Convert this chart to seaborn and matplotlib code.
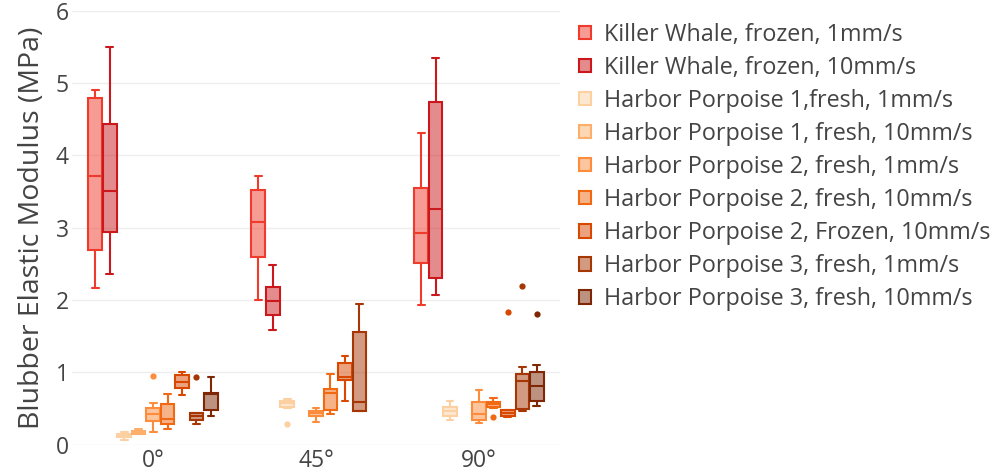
import numpy as np
import pandas as pd
import matplotlib.pyplot as plt
import seaborn as sns
from matplotlib.colors import to_rgba
from matplotlib.patches import Patch

# ---- data: [whisker low, q1, median, q3, whisker high] ----
angles = ['0°', '45°', '90°']

series = [
    'Killer Whale, frozen, 1mm/s',
    'Killer Whale, frozen, 10mm/s',
    'Harbor Porpoise 1,fresh, 1mm/s',
    'Harbor Porpoise 1, fresh, 10mm/s',
    'Harbor Porpoise 2, fresh, 1mm/s',
    'Harbor Porpoise 2, fresh, 10mm/s',
    'Harbor Porpoise 2, Frozen, 10mm/s',
    'Harbor Porpoise 3, fresh, 1mm/s',
    'Harbor Porpoise 3, fresh, 10mm/s',
]

colors = ['#ef3b2c', '#cb181d', '#fdd0a2', '#fdae6b', '#fd8d3c',
          '#f16913', '#d94801', '#a63603', '#7f2704']

kw_frozen_1 = [[2.17, 2.69, 3.72, 4.79, 4.90],
               [2.00, 2.60, 3.08, 3.52, 3.71],
               [1.93, 2.51, 2.93, 3.55, 4.31]]
kw_frozen_10 = [[2.36, 2.94, 3.51, 4.44, 5.50],
                [1.59, 1.79, 1.98, 2.18, 2.48],
                [2.07, 2.31, 3.26, 4.74, 5.35]]
hp1_fresh_1 = [[0.06, 0.10, 0.12, 0.14, 0.17],
               [0.50, 0.52, 0.57, 0.60, 0.63],
               [0.34, 0.40, 0.46, 0.52, 0.61]]
hp1_fresh_10 = [[0.14, 0.15, 0.17, 0.19, 0.21],
                None,
                None]
hp2_fresh_1 = [[0.18, 0.33, 0.42, 0.51, 0.58],
               [0.31, 0.40, 0.44, 0.47, 0.51],
               [0.30, 0.34, 0.42, 0.59, 0.76]]
hp2_fresh_10 = [[0.22, 0.28, 0.36, 0.56, 0.70],
                [0.42, 0.48, 0.72, 0.77, 0.97],
                [0.51, 0.52, 0.56, 0.59, 0.64]]
hp2_frozen_10 = [[0.69, 0.78, 0.87, 0.96, 1.01],
                 [0.60, 0.90, 0.93, 1.13, 1.23],
                 [0.38, 0.40, 0.44, 0.48, 0.48]]
hp3_fresh_1 = [[0.29, 0.34, 0.39, 0.44, 0.44],
               [0.46, 0.47, 0.59, 1.56, 1.94],
               [0.49, 0.46, 0.88, 0.97, 1.08]]
hp3_fresh_10 = [[0.39, 0.48, 0.70, 0.72, 0.94],
                None,
                [0.53, 0.61, 0.81, 1.00, 1.10]]

box_values = [kw_frozen_1, kw_frozen_10, hp1_fresh_1, hp1_fresh_10, hp2_fresh_1,
              hp2_fresh_10, hp2_frozen_10, hp3_fresh_1, hp3_fresh_10]

# outlier points
outlier_series = [series[4], series[7], series[2], series[5], series[6], series[7], series[8]]
outlier_angle = ['0°', '0°', '45°', '90°', '90°', '90°', '90°']
outlier_value = [0.95, 0.94, 0.28, 0.38, 1.84, 2.20, 1.81]

# ---- long-form tables ----
rows = []
for name, per_angle in zip(series, box_values):
    for ang, vals in zip(angles, per_angle):
        if vals is None:
            continue
        for v in sorted(vals):
            rows.append({'angle': ang, 'series': name, 'value': v})
df = pd.DataFrame(rows)

outliers = pd.DataFrame({'angle': outlier_angle, 'series': outlier_series,
                         'value': outlier_value})

palette = dict(zip(series, colors))

# ---- plot ----
sns.set_theme(style='white')
plt.rcParams['font.family'] = ['Open Sans', 'DejaVu Sans']
text_color = '#444444'

fig = plt.figure(figsize=(9.95, 4.73), dpi=100)
ax = fig.add_axes([0.0719, 0.060, 0.4914, 0.917])

for name, col in zip(series, colors):
    n_before = len(ax.patches)
    sns.boxplot(data=df[df['series'] == name], x='angle', y='value',
                hue='series', hue_order=series, order=angles, dodge=True,
                palette=palette, saturation=1, linecolor=col, linewidth=1.5,
                whis=(0, 100), width=0.8, gap=0.04, legend=False, ax=ax)
    for p in ax.patches[n_before:]:
        p.set_facecolor(to_rgba(col, 0.5))
        p.set_edgecolor(col)

sns.stripplot(data=outliers, x='angle', y='value', hue='series',
              hue_order=series, order=angles, dodge=True, jitter=False,
              palette=palette, size=4.5, linewidth=0, legend=False, ax=ax)

ax.set_xlim(-0.5, 2.5)
ax.set_ylim(0, 6)
ax.set_yticks(range(0, 7))
ax.yaxis.grid(True, color='#eeeeee', linewidth=1)
ax.xaxis.grid(False)
ax.set_axisbelow(True)
sns.despine(ax=ax, left=True, bottom=True)
ax.tick_params(axis='both', length=0, labelsize=16.5, colors=text_color)
ax.tick_params(axis='y', pad=2)
ax.tick_params(axis='x', pad=3.5)
ax.set_xlabel('')
ax.set_ylabel('Blubber Elastic Modulus (MPa)', fontsize=20.5, color=text_color,
              labelpad=7)

handles = [Patch(facecolor=to_rgba(c, 0.5), edgecolor=c, linewidth=1.5)
           for c in colors]
fig.legend(handles, series, loc='upper left', bbox_to_anchor=(0.573, 0.972),
           frameon=False, fontsize=16.8, labelcolor=text_color,
           handlelength=0.5, handleheight=0.5, handletextpad=0.55,
           labelspacing=0.39, borderaxespad=0)

fig.savefig('out.png', dpi=100)
